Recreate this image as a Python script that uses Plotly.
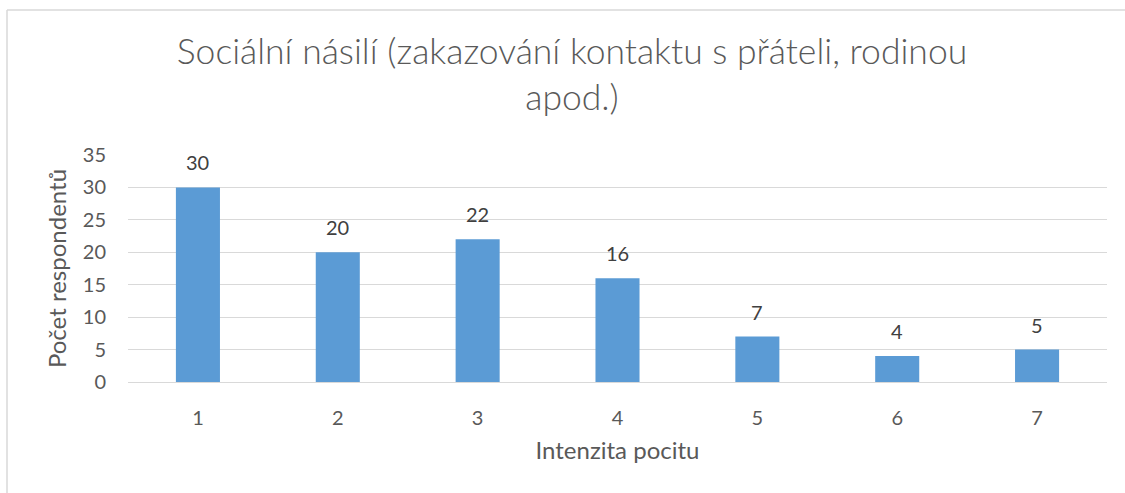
import plotly.graph_objects as go

categories = ["1", "2", "3", "4", "5", "6", "7"]
values = [30, 20, 22, 16, 7, 4, 5]
y_ticks = [0, 5, 10, 15, 20, 25, 30, 35]
title_text = "Sociální násilí (zakazování kontaktu s přáteli, rodinou<br>apod.)"
x_title = "Intenzita pocitu"
y_title = "Počet respondentů"

FONT = "Lato"
GREY = "#595959"
GRID = "#D9D9D9"
BAR = "#5B9BD5"

fig = go.Figure()
fig.add_trace(go.Bar(x=categories, y=values, marker=dict(color=BAR, line=dict(width=0)),
                     hoverinfo="x+y"))

for i, v in enumerate(values):
    fig.add_annotation(x=i, y=v, text=str(v), showarrow=False, yanchor="middle",
                       yshift=25, font=dict(family=FONT, size=20, color="#404040"))

W, H = 1125, 493
L, R, T, B = 128, 18, 155, 111

fig.update_layout(
    width=W, height=H,
    margin=dict(l=L, r=R, t=T, b=B),
    paper_bgcolor="white", plot_bgcolor="white",
    bargap=0.685,
    showlegend=False,
    title=dict(text=title_text, x=572 / W, xanchor="center", xref="container",
               y=1 - 64 / H, yanchor="top", yref="container",
               font=dict(family=FONT, size=35.5, color=GREY, weight=300)),
    xaxis=dict(type="category", range=[-0.5, 6.5], showgrid=False, showline=True,
               linecolor=GRID, linewidth=1, ticks="", ticklabelstandoff=18,
               tickfont=dict(family=FONT, size=20, color=GREY),
               title=dict(text=x_title, standoff=14, font=dict(family=FONT, size=24, color=GREY))),
    yaxis=dict(range=[0, 35], tickvals=y_ticks, showgrid=True, gridcolor=GRID, gridwidth=1,
               zeroline=False, showline=False, ticks="", ticklabelstandoff=21,
               tickfont=dict(family=FONT, size=20, color=GREY),
               title=dict(text=y_title, standoff=9, font=dict(family=FONT, size=24, color=GREY))),
)

# chart area border (left and top edges visible)
fig.add_shape(type="line", xref="paper", yref="paper",
              x0=(7 - L) / (W - L - R), x1=(W - L) / (W - L - R),
              y0=(H - B - 10) / (H - T - B), y1=(H - B - 10) / (H - T - B),
              line=dict(color=GRID, width=1.5))
fig.add_shape(type="line", xref="paper", yref="paper",
              x0=(7 - L) / (W - L - R), x1=(7 - L) / (W - L - R),
              y0=(H - B - 10) / (H - T - B), y1=-B / (H - T - B),
              line=dict(color=GRID, width=1.5))

fig.write_html("out.html", config={"displayModeBar": False},
               post_script="document.body.style.margin='0';")
